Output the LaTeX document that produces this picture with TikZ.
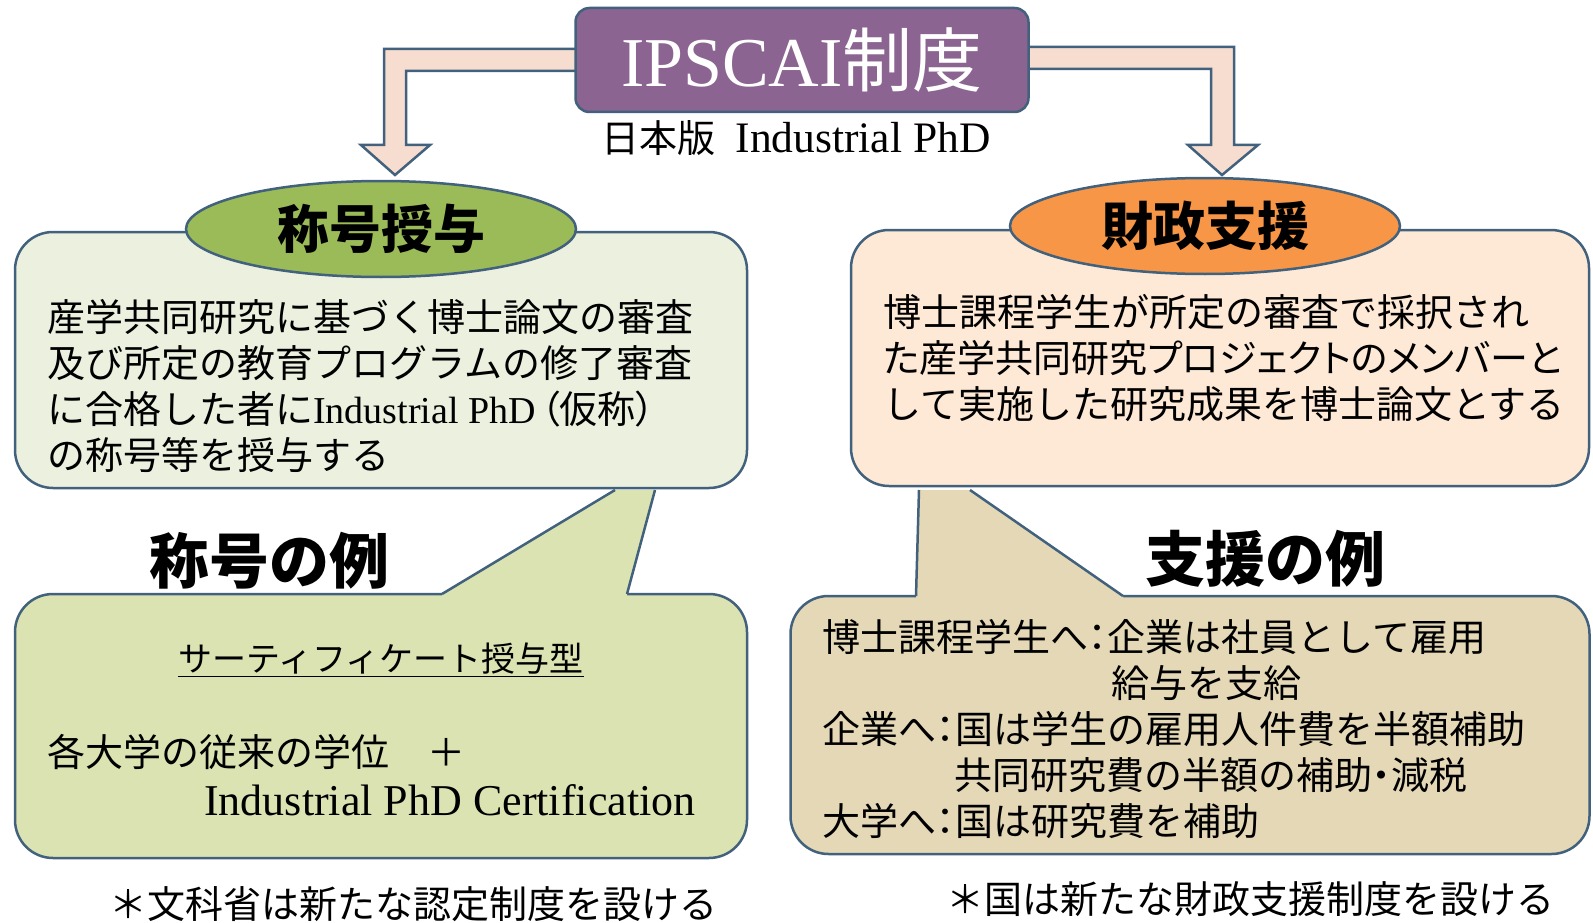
\documentclass[tikz,border=0pt]{standalone}
\usepackage{fontspec}
\setmainfont{Noto Sans CJK JP}
\newfontfamily\lat{Liberation Serif}
\newfontfamily\jpp[RawFeature=+palt]{Noto Sans CJK JP}
\usetikzlibrary{shapes.geometric}
\usetikzlibrary{positioning}
\definecolor{edge}{HTML}{41617D}
\definecolor{sysfill}{HTML}{8C6491}
\definecolor{arrowfill}{HTML}{F7DDD0}
\definecolor{awardtag}{HTML}{9BBB59}
\definecolor{awardfill}{HTML}{EBF1DE}
\definecolor{awardex}{HTML}{DCE3B2}
\definecolor{fundtag}{HTML}{F79646}
\definecolor{fundfill}{HTML}{FDE9D5}
\definecolor{fundex}{HTML}{E4D8B6}

\begin{document}
\begin{tikzpicture}
  [x=1pt, y=-1pt, line width=2.5pt,
   panel/.style = {draw=edge, rounded corners=38pt, inner sep=0pt},
   sysbox/.style = {draw=edge, fill=sysfill, rounded corners=14pt, text=white,
     minimum width=453pt, minimum height=104pt, inner sep=0pt, font=\fontsize{70}{80}\selectfont},
   tagshape/.style = {ellipse, draw=edge, minimum width=390pt, minimum height=96pt,
     inner sep=0pt, font=\bfseries\fontsize{52}{60}\selectfont},
   bodytext/.style = {align=left, anchor=west, inner sep=0pt, font=\fontsize{38}{46}\selectfont},
   headtext/.style = {inner sep=0pt, font=\bfseries\fontsize{60}{70}\selectfont},
   notetext/.style = {inner sep=0pt, font=\fontsize{38}{46}\selectfont},
   bentarrow/.style = {draw=edge, fill=arrowfill, line join=miter}]
  \useasboundingbox (0,0) rectangle (1593,923);

  \draw[bentarrow] (580,49) -- (384,49) -- (384,145) -- (361,145) -- (395,175)
    -- (430,145) -- (406,145) -- (406,71) -- (580,71);
  \draw[bentarrow] (1025,47) -- (1234,47) -- (1234,145) -- (1258,145) -- (1222,175)
    -- (1188,145) -- (1211,145) -- (1211,69) -- (1025,69);
  \node[sysbox] (system) at (802,60) {{\lat IPSCAI}制度};
  \node[below=6pt of system, xshift=-6pt, inner sep=0pt, font=\fontsize{38}{46}\selectfont] (version)
    {日本版\hspace{20pt}{\lat\fontsize{43.5}{46}\selectfont Industrial PhD}};

  \node[panel, fill=awardex, minimum width=732pt, minimum height=264pt] (awardex) at (381,726) {};
  \fill[awardex] (442,594) -- (615,490) -- (655,490) -- (627,594) -- (627,598) -- (442,598) -- cycle;
  \draw[edge] (442,594) -- (615,490) (655,490) -- (627,594);
  \node[panel, fill=fundex, minimum width=799pt, minimum height=258pt] (fundex) at (1190,725) {};
  \fill[fundex] (916,596) -- (919,490) -- (970,490) -- (1123,596) -- (1123,600) -- (916,600) -- cycle;
  \draw[edge] (916,596) -- (919,490) (970,490) -- (1123,596);

  \node[panel, fill=awardfill, minimum width=732pt, minimum height=256pt] (award) at (381,360) {};
  \node[panel, fill=fundfill, minimum width=738pt, minimum height=256pt] (fund) at (1220,358) {};
  \node[tagshape, fill=awardtag] (awardtitle) at (381,229) {称号授与};
  \node[tagshape, fill=fundtag] (fundtitle) at (1205,226) {財政支援};

  \node[bodytext] (awardtext) at (46,386)
    {産学共同研究に基づく博士論文の審査\\及び所定の教育プログラムの修了審査\\
     に合格した者に{\lat Industrial PhD}\hspace{5pt}{\jpp （仮称）}\\の称号等を授与する};
  \node[bodytext] (fundtext) at (882,358)
    {博士課程学生が所定の審査で採択され\\{\jpp た産学共同研究プロジェクトのメンバーと}\\
     して実施した研究成果を博士論文とする};

  \node[headtext] (awardhead) at (269,561) {称号の例};
  \node[inner sep=0pt, font=\fontsize{34}{40}\selectfont] (certtype) at (381,660)
    {\underline{サーティフィケート授与型}};
  \node[bodytext] (degree) at (46,752) {各大学の従来の学位　＋};
  \node[bodytext, font=\lat\fontsize{44}{50}\selectfont] (cert) at (203,800)
    {Industrial PhD Certification};
  \node[notetext] (awardnote) at (413,904) {＊文科省は新たな認定制度を設ける};

  \node[headtext] (fundhead) at (1265,559) {支援の例};
  \node[bodytext] (fundlist) at (821,729)
    {博士課程学生へ{\jpp ：}企業は社員として雇用\\
     \hspace*{289pt}給与を支給\\
     企業へ{\jpp ：}国は学生の雇用人件費を半額補助\\
     \hspace*{132pt}共同研究費の半額の補助{\jpp ・}減税\\
     大学へ{\jpp ：}国は研究費を補助};
  \node[notetext] (fundnote) at (1250,899) {＊国は新たな財政支援制度を設ける};
\end{tikzpicture}
\end{document}
